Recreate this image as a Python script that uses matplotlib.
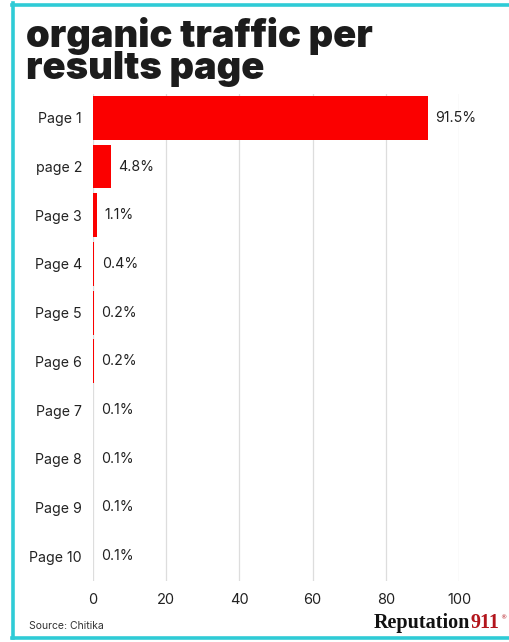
import matplotlib
matplotlib.use('Agg')
import matplotlib.pyplot as plt
from matplotlib.lines import Line2D

pages = ['Page 1', 'page 2', 'Page 3', 'Page 4', 'Page 5',
         'Page 6', 'Page 7', 'Page 8', 'Page 9', 'Page 10']
traffic = [91.5, 4.8, 1.1, 0.4, 0.2, 0.2, 0.1, 0.1, 0.1, 0.1]
labels = ['91.5%', '4.8%', '1.1%', '0.4%', '0.2%', '0.2%', '0.1%', '0.1%', '0.1%', '0.1%']
xticks = [0, 20, 40, 60, 80, 100]

W, H = 510, 642
fig = plt.figure(figsize=(W / 100, H / 100), dpi=100)
fig.patch.set_facecolor('white')

# axes placement in pixels
left, right, top, bottom = 93, 459, 93.5, 580.5
ax = fig.add_axes([left / W, 1 - bottom / H, (right - left) / W, (bottom - top) / H])

font = 'Inter'
txt = '#222222'

for i, v in enumerate(traffic):
    ax.barh(i, v, height=0.9, color='#fb0000', linewidth=0, zorder=3)
    ax.annotate(labels[i], (v, i), xytext=(5.5, 0), textcoords='offset points',
                va='center', ha='left', fontsize=10.2, color=txt, family=font)

ax.set_xlim(0, 100)
ax.set_ylim(9.5, -0.5)
ax.set_yticks(range(len(pages)))
ax.set_yticklabels(pages, fontsize=10.2, color=txt, family=font)
ax.set_xticks(xticks)
ax.set_xticklabels([str(t) for t in xticks], fontsize=10.5, color=txt, family=font)
ax.tick_params(axis='both', length=0)
ax.tick_params(axis='y', pad=8)
ax.tick_params(axis='x', pad=9)
for s in ax.spines.values():
    s.set_visible(False)
ax.grid(axis='x', color='#dddddd', linewidth=0.9, zorder=0)
ax.set_facecolor('white')

# title
fig.text(26 / W, 1 - 17 / H, 'organic traffic per\nresults page', fontsize=27.5,
         fontweight='black', family=font, color='#1c1c1c', va='top', ha='left',
         linespacing=0.86)

fig.text(29 / W, 1 - 626 / H, 'Source: Chitika', fontsize=7.5, color='#333333',
         family=font, va='center', ha='left')

# logo
t1 = fig.text(374 / W, 1 - 628 / H, 'Reputation', fontsize=14.5, fontweight='bold',
              family='Liberation Serif', color='#111111', va='baseline', ha='left')
fig.canvas.draw()
bb = t1.get_window_extent()
t2 = fig.text(bb.x1 / W, 1 - 628 / H, '911', fontsize=14.5, fontweight='bold',
              family='Liberation Serif', color='#b3151c', va='baseline', ha='left')
bb2 = t2.get_window_extent()
fig.text(bb2.x1 / W + 1 / W, 1 - 619 / H, '®', fontsize=4.5, family='DejaVu Sans',
         color='#b3151c', va='baseline', ha='left')

# cyan frame
cyan = '#2fcbd6'
fig.add_artist(Line2D([13.5 / W, 13.5 / W], [1 - 3 / H, 1 - 638 / H], color=cyan, lw=2.6,
                      transform=fig.transFigure))
fig.add_artist(Line2D([12 / W, 1], [1 - 4.5 / H, 1 - 4.5 / H], color=cyan, lw=2.6,
                      transform=fig.transFigure))
fig.add_artist(Line2D([12 / W, 1], [1 - 637.5 / H, 1 - 637.5 / H], color=cyan, lw=2.6,
                      transform=fig.transFigure))

fig.savefig('out.png', dpi=100)
